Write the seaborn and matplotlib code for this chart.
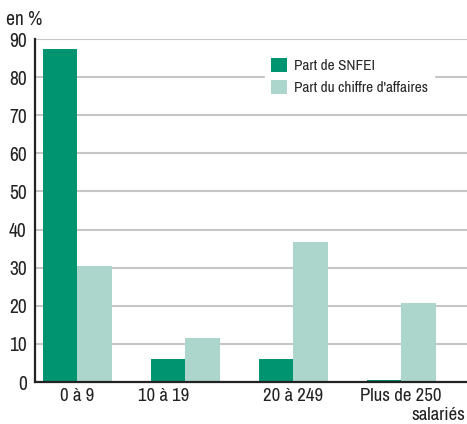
import pandas as pd
import matplotlib.pyplot as plt
import matplotlib.transforms as mtransforms
import seaborn as sns

# Data
categories = ['0 à 9', '10 à 19', '20 à 249', 'Plus de 250']
part_snfei = [87.4, 6.0, 6.0, 0.5]
part_ca = [30.4, 11.5, 36.7, 20.7]
series_names = ['Part de SNFEI', "Part du chiffre d'affaires"]

df = pd.DataFrame({
    'tranche': categories * 2,
    'serie': [series_names[0]] * 4 + [series_names[1]] * 4,
    'valeur': part_snfei + part_ca,
})

sns.set_style('white')
plt.rcParams['font.family'] = ['Archivo Narrow', 'PT Sans Narrow', 'DejaVu Sans']

fig = plt.figure(figsize=(4.67, 4.24), dpi=100)
ax = fig.add_axes([0.075, 0.099, 0.925, 0.809])

sns.barplot(data=df, x='tranche', y='valeur', hue='serie', order=categories,
            hue_order=series_names, palette=['#009470', '#acd5cb'],
            width=0.64, saturation=1, linewidth=0, ax=ax, zorder=3)

ax.set_ylim(0, 90)
ax.set_xlim(-0.39, 3.61)
ax.set_yticks(range(0, 91, 10))
ax.yaxis.grid(True, color='#c6c6c6', linewidth=1.5, zorder=0)
ax.set_axisbelow(True)
ax.set_xlabel('')
ax.set_ylabel('')

for side in ['top', 'right']:
    ax.spines[side].set_visible(False)
for side in ['left', 'bottom']:
    ax.spines[side].set_color('#222222')
    ax.spines[side].set_linewidth(1.6)
    ax.spines[side].set_zorder(4)

ax.tick_params(axis='y', labelsize=14, length=0, pad=6, colors='#222222')
ax.tick_params(axis='x', labelsize=13.5, length=0, pad=4, colors='#222222')

# shift "10 à 19" label slightly left as in the reference
lbl = ax.get_xticklabels()[1]
lbl.set_transform(lbl.get_transform() + mtransforms.ScaledTranslation(-0.22, 0, fig.dpi_scale_trans))

ax.text(-0.068, 1.03, 'en %', transform=ax.transAxes, fontsize=14,
        color='#222222', ha='left', va='bottom')
ax.text(0.996, -0.072, 'salariés', transform=ax.transAxes, fontsize=13.5,
        color='#222222', ha='right', va='top')

leg = ax.legend(loc='upper left', bbox_to_anchor=(0.515, 0.985), frameon=True,
                fontsize=11, handlelength=1.0, handleheight=1.0,
                handletextpad=0.5, labelspacing=0.45, borderpad=0.4)
leg.get_frame().set_facecolor('white')
leg.get_frame().set_edgecolor('white')
leg.get_frame().set_alpha(1)

fig.savefig('out.png', dpi=100)
